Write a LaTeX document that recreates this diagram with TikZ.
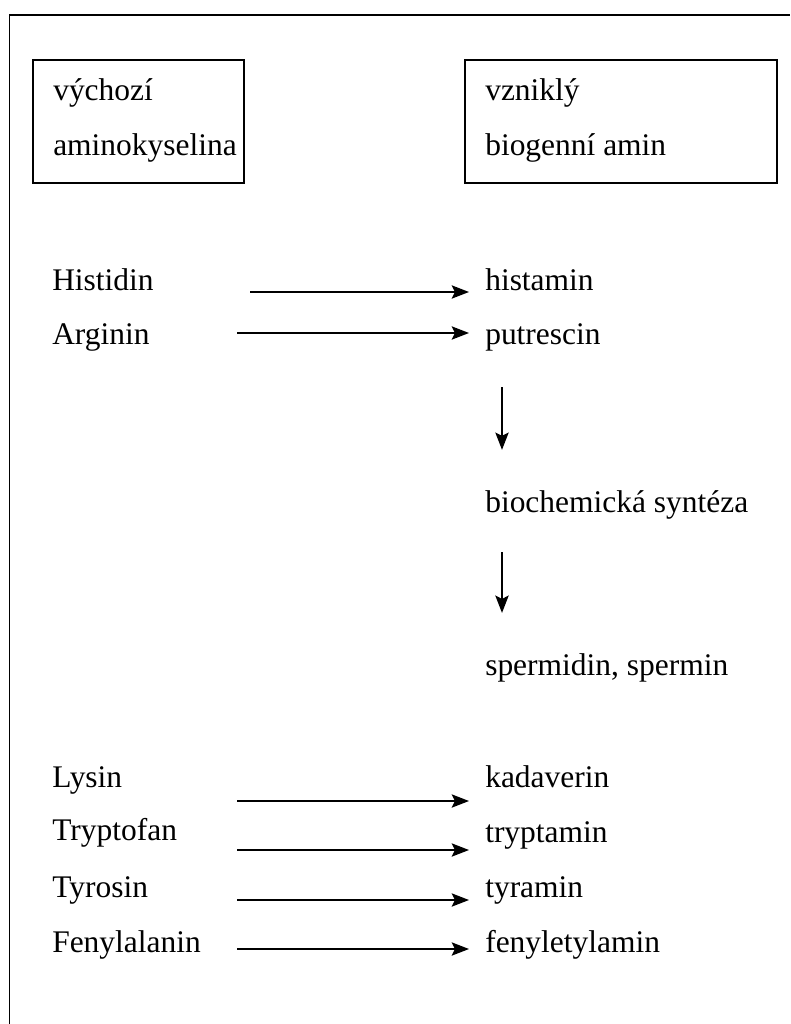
\documentclass[tikz,border=0pt]{standalone}
\usepackage{fontspec}
\setmainfont{Liberation Serif}
\usetikzlibrary{arrows.meta}

\begin{document}
\begin{tikzpicture}[x=0.75pt,y=-0.75pt,
  every node/.style={inner sep=0pt, anchor=base west, font=\fontsize{23.6}{28}\selectfont},
  frame/.style={line width=1.3pt},
  arr/.style={line width=1.2pt, -{Stealth[length=13pt,width=10pt,inset=2.5pt]}}]
\useasboundingbox (0,0) rectangle (790,1024);
\fill [white] (0,0) rectangle (790,1024);
\draw [frame] (9.5,1024) -- (9.5,15) -- (790,15);
\draw [frame] (33,60) rectangle (244,183);
\draw [frame] (465,60) rectangle (777,183);
\node (src1) at (53,100) {výchozí};
\node (src2) at (53,155) {aminokyselina};
\node (dst1) at (485,100) {vzniklý};
\node (dst2) at (485,155) {biogenní amin};
% amino acids
\node (his) at (52,290) {Histidin};
\node (arg) at (52,344) {Arginin};
\node (lys) at (52,787) {Lysin};
\node (trp) at (52,840) {Tryptofan};
\node (tyr) at (52,897) {Tyrosin};
\node (phe) at (52,952) {Fenylalanin};
% amines
\node (hista) at (485,290) {histamin};
\node (putr) at (485,344) {putrescin};
\node (synt) at (485,512) {biochemická syntéza};
\node (sperm) at (485,675) {spermidin, spermin};
\node (kada) at (485,787) {kadaverin};
\node (trypt) at (485,842) {tryptamin};
\node (tyra) at (485,897) {tyramin};
\node (fenyl) at (485,952) {fenyletylamin};
% arrow tails
\coordinate (his-a) at (250,292);
\coordinate (arg-a) at (237,333);
\coordinate (lys-a) at (237,801);
\coordinate (trp-a) at (237,850);
\coordinate (tyr-a) at (237,900);
\coordinate (phe-a) at (237,949);
\coordinate (put-d) at (502,387);
\coordinate (syn-d) at (502,552);
\draw [arr, shorten >=12pt] (his-a) -- (his-a -| hista.west);
\draw [arr, shorten >=12pt] (arg-a) -- (arg-a -| putr.west);
\draw [arr, shorten >=12pt] (lys-a) -- (lys-a -| kada.west);
\draw [arr, shorten >=12pt] (trp-a) -- (trp-a -| trypt.west);
\draw [arr, shorten >=12pt] (tyr-a) -- (tyr-a -| tyra.west);
\draw [arr, shorten >=12pt] (phe-a) -- (phe-a -| fenyl.west);
\draw [arr, shorten >=30pt] (put-d) -- (put-d |- synt.north);
\draw [arr, shorten >=30pt] (syn-d) -- (syn-d |- sperm.north);
\end{tikzpicture}
\end{document}
